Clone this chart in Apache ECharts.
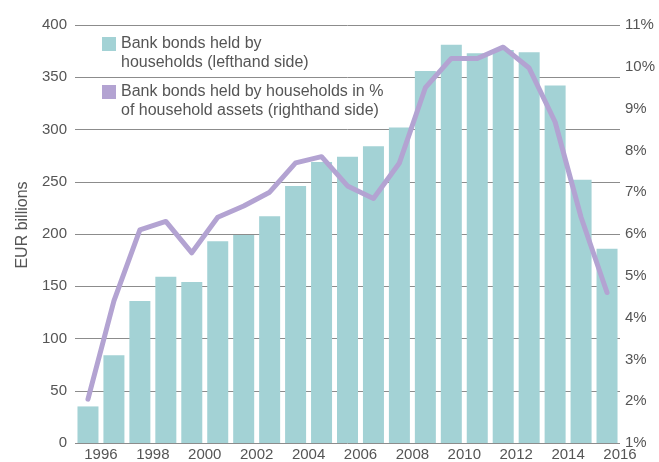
<!DOCTYPE html>
<html>
<head>
<meta charset="utf-8">
<script src="https://cdn.jsdelivr.net/npm/echarts@6/dist/echarts.min.js"></script>
<style>
  html, body { margin: 0; padding: 0; background: #ffffff; }
  #chart { width: 659px; height: 462px; }
</style>
</head>
<body>
<div id="chart"></div>
<script>
// Year of each bar (end-of-year values, 1995–2015)
const years = ['1995','1996','1997','1998','1999','2000','2001','2002','2003','2004',
               '2005','2006','2007','2008','2009','2010','2011','2012','2013','2014','2015'];
// Bank bonds held by households, EUR billions
const bondsHeld = [35, 84, 136, 159, 154, 193, 199, 217, 246, 269,
                   274, 284, 302, 356, 381, 373, 376, 374, 342, 252, 186];
// Bank bonds as a share of household assets, %
const bondsShare = [2.05, 4.4, 6.1, 6.3, 5.55, 6.4, 6.67, 7.0, 7.7, 7.85,
                    7.15, 6.85, 7.7, 9.5, 10.2, 10.2, 10.47, 9.97, 8.68, 6.4, 4.6];
// Axis ranges
const leftAxis = { min: 0, max: 400, step: 50 };
const rightAxis = { min: 1, max: 11, step: 1 };
const yearAxis = { min: 1995, max: 2016 };

const barName = 'Bank bonds held by\nhouseholds (lefthand side)';
const lineName = 'Bank bonds held by households in %\nof household assets (righthand side)';

const textColor = '#555555';
const font = 'Liberation Sans, Arial, Helvetica, sans-serif';

const chart = echarts.init(document.getElementById('chart'), null, { renderer: 'canvas' });
chart.setOption({
  animation: false,
  backgroundColor: '#ffffff',
  textStyle: { fontFamily: font },
  grid: { left: 75, right: 39, top: 25, bottom: 19, containLabel: false },
  legend: {
    orient: 'vertical',
    left: 102,
    top: 15.5,
    padding: 0,
    itemGap: -9,
    icon: 'rect',
    itemWidth: 14,
    itemHeight: 14,
    selectedMode: false,
    data: [barName, lineName],
    // a blank leading line keeps the first text line level with the swatch
    formatter: name => '\n' + name,
    textStyle: { color: textColor, fontSize: 16, lineHeight: 19, fontFamily: font }
  },
  xAxis: [
    {
      type: 'category',
      data: years,
      boundaryGap: true,
      axisLine: { show: false },
      axisTick: { show: false },
      axisLabel: { show: false },
      splitLine: { show: false }
    },
    {
      type: 'value',
      position: 'bottom',
      min: yearAxis.min,
      max: yearAxis.max,
      interval: 1,
      axisLine: { show: false },
      axisTick: { show: false },
      splitLine: { show: false },
      axisLabel: {
        color: textColor, fontSize: 15, margin: 4, fontFamily: font,
        formatter: v => (v % 2 === 0 ? String(v) : '')
      }
    }
  ],
  yAxis: [
    {
      type: 'value',
      min: leftAxis.min, max: leftAxis.max, interval: leftAxis.step,
      name: 'EUR billions',
      nameLocation: 'middle',
      nameGap: 44,
      nameTextStyle: { color: textColor, fontSize: 16, fontFamily: font, padding: [0, 0, 0, 18] },
      axisLine: { show: false },
      axisTick: { show: false },
      axisLabel: { color: textColor, fontSize: 15, margin: 8, fontFamily: font },
      splitLine: { show: true, lineStyle: { color: '#8c8c8c', width: 1 } }
    },
    {
      type: 'value',
      position: 'right',
      min: rightAxis.min, max: rightAxis.max, interval: rightAxis.step,
      axisLine: { show: false },
      axisTick: { show: false },
      axisLabel: { color: textColor, fontSize: 15, margin: 5, fontFamily: font, formatter: '{value}%' },
      splitLine: { show: false }
    }
  ],
  series: [
    {
      name: barName,
      type: 'bar',
      xAxisIndex: 0,
      yAxisIndex: 0,
      data: bondsHeld,
      barWidth: 21,
      itemStyle: { color: '#a3d2d5' }
    },
    {
      name: lineName,
      type: 'line',
      xAxisIndex: 0,
      yAxisIndex: 1,
      data: bondsShare,
      symbol: 'none',
      smooth: false,
      color: '#b3a3d2',
      lineStyle: { color: '#b3a3d2', width: 5, join: 'round', cap: 'round' },
      itemStyle: { color: '#b3a3d2' }
    }
  ]
});
</script>
</body>
</html>
